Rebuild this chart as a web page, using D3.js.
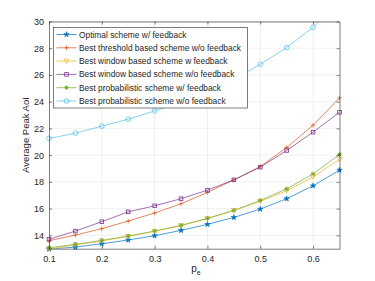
<!DOCTYPE html>
<html>
<head>
<meta charset="utf-8">
<script src="https://cdn.jsdelivr.net/npm/d3@7"></script>
<style>
  body { margin: 0; background: #fff; }
  text { font-family: "Liberation Sans", Arial, sans-serif; fill: #262626; }
</style>
</head>
<body>
<div id="chart"></div>
<script>
var pe = [0.1, 0.15, 0.2, 0.25, 0.3, 0.35, 0.4, 0.45, 0.5, 0.55, 0.6, 0.65];

var optimalFb   = [12.97, 13.12, 13.37, 13.65, 13.97, 14.37, 14.82, 15.34, 15.96, 16.74, 17.71, 18.88];
var thresholdNo = [13.6, 14.02, 14.5, 15.07, 15.67, 16.36, 17.21, 18.15, 19.15, 20.57, 22.24, 24.28];
var windowFb    = [12.98, 13.28, 13.58, 13.92, 14.3, 14.72, 15.25, 15.85, 16.55, 17.33, 18.38, 19.68];
var windowNo    = [13.7, 14.32, 15.02, 15.76, 16.21, 16.74, 17.38, 18.15, 19.1, 20.35, 21.72, 23.21];
var probFb      = [13.07, 13.33, 13.62, 13.95, 14.32, 14.75, 15.27, 15.87, 16.61, 17.48, 18.6, 20.05];
var probNo      = [21.25, 21.64, 22.17, 22.69, 23.31, 23.98, 24.75, 25.65, 26.8, 28.05, 29.57, 31.5];

var xTicks = [0.1, 0.2, 0.3, 0.4, 0.5, 0.6];
var yTicks = [14, 16, 18, 20, 22, 24, 26, 28, 30];

var series = [
  {name: "Optimal scheme w/ feedback", values: optimalFb, color: "#0072BD", marker: "star"},
  {name: "Best threshold based scheme w/o feedback", values: thresholdNo, color: "#D95319", marker: "plus"},
  {name: "Best window based scheme w feedback", values: windowFb, color: "#EDB120", marker: "triangle"},
  {name: "Best window based scheme w/o feedback", values: windowNo, color: "#7E2F8E", marker: "square"},
  {name: "Best probabilistic scheme w/ feedback", values: probFb, color: "#77AC30", marker: "asterisk"},
  {name: "Best probabilistic scheme w/o feedback", values: probNo, color: "#4DBEEE", marker: "circle"}
];

var margin = {top: 21.5, right: 35.5, bottom: 32.3, left: 49},
    width = 375 - margin.left - margin.right,
    height = 281 - margin.top - margin.bottom;

var svg = d3.select("#chart")
  .append("svg")
  .attr("width", 375)
  .attr("height", 281);

var g = svg.append("g")
  .attr("transform", "translate(" + margin.left + "," + margin.top + ")");

var x = d3.scaleLinear().domain([0.1, 0.65]).range([0, width]);
var y = d3.scaleLinear().domain([13, 30]).range([height, 0]);

// grid
g.append("g").selectAll("line").data(xTicks.slice(1)).enter().append("line")
  .attr("x1", function(d) { return x(d); }).attr("x2", function(d) { return x(d); })
  .attr("y1", 0).attr("y2", height)
  .attr("stroke", "#e6e6e6").attr("stroke-width", 0.6);
g.append("g").selectAll("line").data(yTicks).enter().append("line")
  .attr("x1", 0).attr("x2", width)
  .attr("y1", function(d) { return y(d); }).attr("y2", function(d) { return y(d); })
  .attr("stroke", "#e6e6e6").attr("stroke-width", 0.6);

svg.append("defs").append("clipPath").attr("id", "clip")
  .append("rect").attr("width", width).attr("height", height);

// markers
function drawMarker(sel, type, color) {
  if (type === "star") {
    sel.append("path").attr("d", d3.symbol(d3.symbolStar, 9)())
      .attr("fill", color).attr("stroke", color).attr("stroke-width", 0.6);
  } else if (type === "plus") {
    sel.append("path").attr("d", "M-2.3,0H2.3M0,-2.3V2.3")
      .attr("fill", "none").attr("stroke", color).attr("stroke-width", 0.7);
  } else if (type === "triangle") {
    sel.append("path").attr("d", "M-2.5,-2L2.5,-2L0,2.4Z")
      .attr("fill", "none").attr("stroke", color).attr("stroke-width", 0.7);
  } else if (type === "square") {
    sel.append("rect").attr("x", -1.8).attr("y", -1.8).attr("width", 3.6).attr("height", 3.6)
      .attr("fill", "none").attr("stroke", color).attr("stroke-width", 0.8);
  } else if (type === "asterisk") {
    sel.append("path").attr("d", "M-2.2,0H2.2M0,-2.2V2.2M-1.6,-1.6L1.6,1.6M-1.6,1.6L1.6,-1.6")
      .attr("fill", "none").attr("stroke", color).attr("stroke-width", 1);
  } else if (type === "circle") {
    sel.append("circle").attr("r", 2.4)
      .attr("fill", "none").attr("stroke", color).attr("stroke-width", 0.7);
  }
}

var line = d3.line()
  .x(function(d, i) { return x(pe[i]); })
  .y(function(d) { return y(d); });

var plot = g.append("g").attr("clip-path", "url(#clip)");

series.forEach(function(s) {
  plot.append("path")
    .datum(s.values)
    .attr("d", line)
    .attr("fill", "none")
    .attr("stroke", s.color)
    .attr("stroke-width", 0.7);
  s.values.forEach(function(v, i) {
    if (v > 30) return;
    var m = g.append("g").attr("transform", "translate(" + x(pe[i]) + "," + y(v) + ")");
    drawMarker(m, s.marker, s.color);
  });
});

// axes
var xAxis = d3.axisBottom(x).tickValues(xTicks).tickSizeInner(-3).tickSizeOuter(0).tickPadding(7)
  .tickFormat(d3.format(".1f"));
var yAxis = d3.axisLeft(y).tickValues(yTicks).tickSizeInner(-3).tickSizeOuter(0).tickPadding(5);

var xg = g.append("g").attr("transform", "translate(0," + height + ")").call(xAxis);
var yg = g.append("g").call(yAxis);
var xTop = g.append("g").call(d3.axisTop(x).tickValues(xTicks).tickSizeInner(-3).tickSizeOuter(0).tickFormat(""));
var yRight = g.append("g").attr("transform", "translate(" + width + ",0)")
  .call(d3.axisRight(y).tickValues(yTicks).tickSizeInner(-3).tickSizeOuter(0).tickFormat(""));

[xg, yg, xTop, yRight].forEach(function(a) {
  a.select(".domain").attr("stroke", "#262626").attr("stroke-width", 0.6);
  a.selectAll(".tick line").attr("stroke", "#262626").attr("stroke-width", 0.6);
  a.selectAll("text").attr("fill", "#262626")
    .style("font-family", "'Liberation Sans', Arial, sans-serif").style("font-size", "9px");
});

// axis labels
svg.append("text")
  .attr("transform", "translate(29," + (margin.top + height / 2) + ") rotate(-90)")
  .attr("text-anchor", "middle")
  .style("font-size", "9.5px")
  .text("Average Peak AoI");

var xl = svg.append("text")
  .attr("x", 196).attr("y", 272)
  .attr("text-anchor", "middle")
  .style("font-size", "10px");
xl.append("tspan").text("p");
xl.append("tspan").attr("dy", 3).style("font-size", "7px").text("e");

// legend
var lg = svg.append("g").attr("transform", "translate(53.5,27.5)");
lg.append("rect").attr("width", 194).attr("height", 80.5)
  .attr("fill", "#fff").attr("stroke", "#262626").attr("stroke-width", 0.6);
series.forEach(function(s, i) {
  var row = lg.append("g").attr("transform", "translate(0," + (7 + i * 13.3) + ")");
  row.append("line").attr("x1", 3).attr("x2", 23).attr("y1", 0).attr("y2", 0)
    .attr("stroke", s.color).attr("stroke-width", 0.7);
  drawMarker(row.append("g").attr("transform", "translate(13,0)"), s.marker, s.color);
  row.append("text").attr("x", 25.5).attr("y", 3).style("font-size", "8.4px").text(s.name);
});
</script>
</body>
</html>
